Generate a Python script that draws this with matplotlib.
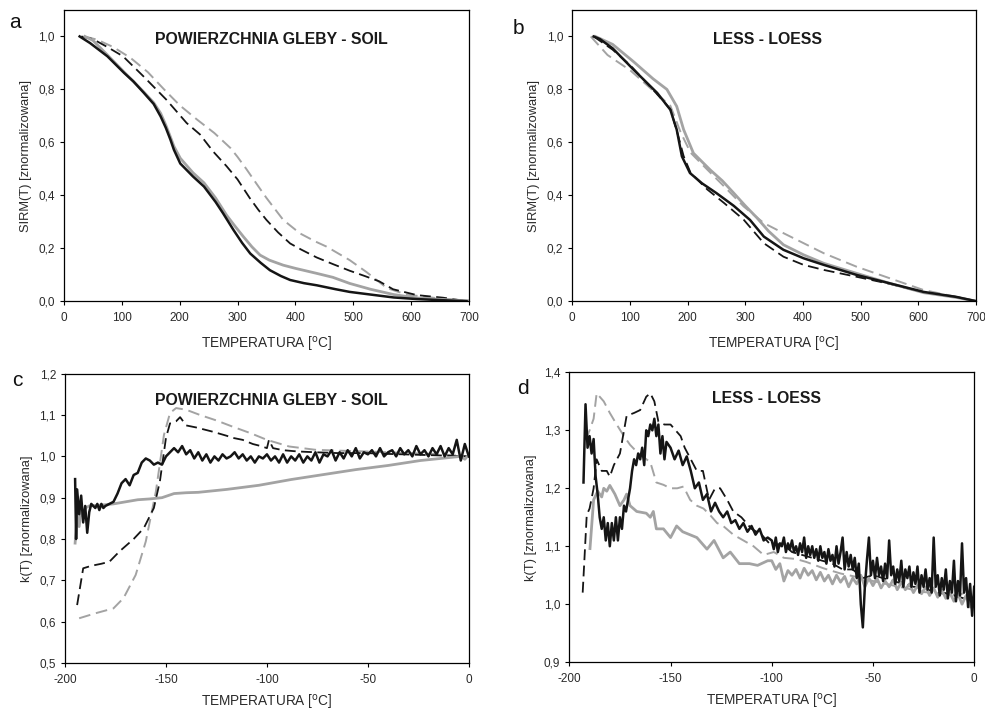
import numpy as np
import matplotlib
matplotlib.use("Agg")
from matplotlib import pyplot as plt
from matplotlib.ticker import FuncFormatter

plt.rcParams['font.family'] = ['Liberation Sans', 'DejaVu Sans']

BLACK = '#151515'
GREY = '#a3a3a3'

# ---- panel a: SIRM(T), soil ----
a_black_x = [27, 45, 75, 104, 120, 138, 155, 167, 176, 184, 190, 201, 223, 242, 262, 275, 293, 308, 322, 340,
             356, 375, 391, 415, 437, 470, 494, 530, 570, 610, 650, 696]
a_black_y = [1.0, 0.975, 0.925, 0.862, 0.83, 0.787, 0.745, 0.698, 0.655, 0.61, 0.572, 0.52, 0.471, 0.433, 0.375,
             0.332, 0.269, 0.22, 0.18, 0.145, 0.117, 0.095, 0.08, 0.068, 0.06, 0.045, 0.035, 0.025, 0.014, 0.008,
             0.004, 0.0]
a_grey_x = [36, 50, 75, 104, 120, 138, 155, 167, 176, 184, 190, 201, 223, 242, 262, 281, 295, 310, 325, 339,
            355, 379, 400, 437, 465, 494, 530, 570, 610, 667, 708]
a_grey_y = [1.0, 0.985, 0.93, 0.865, 0.83, 0.79, 0.75, 0.71, 0.665, 0.62, 0.585, 0.54, 0.485, 0.447, 0.39,
            0.325, 0.285, 0.244, 0.205, 0.174, 0.155, 0.136, 0.124, 0.105, 0.09, 0.067, 0.045, 0.025, 0.012,
            0.005, 0.0]
a_bdash_x = [30, 50, 75, 102, 137, 177, 212, 235, 258, 281, 300, 321, 336, 350, 370, 391, 410, 437, 465, 494,
             520, 545, 569, 610, 656, 696]
a_bdash_y = [1.0, 0.99, 0.96, 0.925, 0.85, 0.761, 0.673, 0.63, 0.565, 0.51, 0.46, 0.39, 0.345, 0.307, 0.26,
             0.218, 0.195, 0.165, 0.14, 0.115, 0.095, 0.075, 0.045, 0.023, 0.013, 0.0]
a_gdash_x = [35, 57, 85, 115, 145, 173, 200, 230, 260, 288, 300, 315, 334, 350, 379, 408, 435, 454, 494, 523,
             558, 592, 650, 710]
a_gdash_y = [1.0, 0.988, 0.96, 0.919, 0.865, 0.80, 0.74, 0.686, 0.635, 0.578, 0.545, 0.5, 0.44, 0.39, 0.307,
             0.256, 0.225, 0.206, 0.155, 0.11, 0.05, 0.025, 0.01, 0.0]

# ---- panel b: SIRM(T), loess ----
b_black_x = [37, 48, 70, 106, 147, 170, 181, 190, 204, 225, 250, 280, 308, 332, 366, 401, 436, 493, 551, 609,
             666, 700]
b_black_y = [1.0, 0.99, 0.955, 0.875, 0.787, 0.723, 0.648, 0.547, 0.484, 0.445, 0.408, 0.36, 0.307, 0.244,
             0.194, 0.162, 0.137, 0.099, 0.067, 0.035, 0.016, 0.0]
b_grey_x = [40, 70, 106, 140, 164, 181, 193, 210, 239, 260, 280, 300, 320, 340, 366, 401, 436, 493, 551, 609,
            666, 700]
b_grey_y = [1.0, 0.97, 0.905, 0.84, 0.80, 0.736, 0.648, 0.559, 0.496, 0.455, 0.408, 0.36, 0.315, 0.265, 0.213,
            0.175, 0.143, 0.105, 0.067, 0.032, 0.014, 0.0]
b_bdash_x = [37, 70, 101, 147, 170, 182, 193, 205, 234, 263, 297, 332, 366, 401, 436, 493, 551, 609, 666, 700]
b_bdash_y = [1.0, 0.95, 0.89, 0.782, 0.725, 0.637, 0.548, 0.485, 0.422, 0.371, 0.308, 0.219, 0.168, 0.137,
             0.118, 0.092, 0.065, 0.033, 0.016, 0.0]
b_gdash_x = [32, 61, 101, 147, 170, 188, 205, 234, 263, 297, 332, 366, 401, 436, 493, 551, 609, 666, 700]
b_gdash_y = [1.0, 0.93, 0.871, 0.782, 0.738, 0.637, 0.561, 0.497, 0.434, 0.358, 0.295, 0.257, 0.219, 0.181,
             0.13, 0.086, 0.042, 0.016, 0.0]

# ---- panel c: k(T), soil ----
c_black_x = [-195, -194.5, -194, -193, -192, -191, -190, -189, -188, -187,
             -186, -185, -184, -183, -182, -181, -180, -178, -176, -174,
             -172, -170, -168, -166, -164, -162, -160, -158, -156, -154,
             -152, -150, -148, -146, -144, -142, -140,
             -138, -136, -134, -132, -130, -128, -126, -124, -122, -120,
             -118, -116, -114, -112, -110, -108, -106, -104, -102, -100,
             -98, -96, -94, -92, -90, -88, -86, -84, -82, -80,
             -78, -76, -74, -72, -70, -68, -66, -64, -62, -60,
             -58, -56, -54, -52, -50, -48, -46, -44, -42, -40,
             -38, -36, -34, -32, -30, -28, -26, -24, -22, -20,
             -18, -16, -14, -12, -10, -8, -6, -4, -2, 0]
c_black_y = [0.945, 0.80, 0.92, 0.86, 0.905, 0.84, 0.88, 0.815, 0.865, 0.885,
             0.88, 0.875, 0.885, 0.87, 0.885, 0.875, 0.88, 0.885, 0.89, 0.91,
             0.935, 0.945, 0.93, 0.955, 0.96, 0.985, 0.995, 0.99, 0.98, 0.985,
             0.98, 1.0, 1.01, 1.02, 1.01, 1.025, 1.005,
             1.015, 0.995, 1.01, 0.99, 1.005, 0.985, 1.0, 0.99, 1.005, 0.995,
             1.0, 1.01, 0.995, 1.005, 0.99, 1.0, 0.985, 1.0, 0.995, 1.005,
             0.99, 1.0, 0.985, 1.005, 0.985, 1.0, 0.99, 1.005, 0.985, 1.0,
             0.99, 1.01, 0.985, 1.005, 1.0, 1.015, 0.99, 1.01, 0.995, 1.015,
             1.0, 1.02, 0.995, 1.01, 1.005, 1.015, 1.0, 1.02, 1.0, 1.01,
             1.015, 1.0, 1.02, 1.005, 1.015, 1.0, 1.025, 1.005, 1.015, 1.0,
             1.02, 1.005, 1.025, 1.0, 1.02, 1.005, 1.04, 0.99, 1.03, 1.0]
c_grey_x = [-195, -194, -193, -192, -191, -190, -188, -182, -176, -170,
            -164, -158, -152, -146, -140, -134, -128, -120, -112, -104,
            -96, -88, -80, -72, -64, -56, -48, -40, -32, -24,
            -16, -8, -4, -2, 0]
c_grey_y = [0.79, 0.86, 0.83, 0.87, 0.855, 0.875, 0.88, 0.882, 0.885, 0.89,
            0.895, 0.897, 0.90, 0.91, 0.912, 0.913, 0.916, 0.92, 0.925, 0.93,
            0.937, 0.944, 0.95, 0.956, 0.962, 0.968, 0.973, 0.978, 0.984, 0.99,
            0.994, 0.998, 1.0, 0.993, 1.004]
c_bdash_x = [-194, -191, -187, -182, -178, -173, -166, -161, -156, -153,
             -150, -148, -145, -143, -140, -135, -127, -120, -117, -112,
             -107, -103, -100, -99, -97, -92, -85, -76, -65, -51,
             -40, -26, -12, 0]
c_bdash_y = [0.64, 0.729, 0.735, 0.74, 0.745, 0.77, 0.80, 0.826, 0.875, 0.94,
             1.045, 1.08, 1.085, 1.095, 1.075, 1.07, 1.06, 1.05, 1.045, 1.04,
             1.03, 1.025, 1.02, 1.04, 1.02, 1.015, 1.012, 1.01, 1.008, 1.008,
             1.006, 1.004, 1.002, 1.0]
c_gdash_x = [-193, -185, -176, -171, -165, -160, -155, -151, -148, -145,
             -140, -133, -125, -117, -108, -100, -89, -76, -65, -51,
             -35, -18, 0]
c_gdash_y = [0.608, 0.62, 0.632, 0.657, 0.713, 0.794, 0.915, 1.052, 1.105, 1.117,
             1.113, 1.10, 1.087, 1.072, 1.056, 1.04, 1.024, 1.016, 1.014, 1.012,
             1.009, 1.006, 1.0]

# ---- panel d: k(T), loess ----
d_black_x = [-193, -192, -191, -190, -189, -188, -187, -186, -185, -184,
             -183, -182, -181, -180, -179, -178, -177, -176, -175, -174,
             -173, -172, -171, -170, -169, -168, -167, -166, -165, -164,
             -163, -162, -161, -160, -159, -158, -157, -156, -155, -154,
             -153, -152,
             -150, -148, -146, -144, -142, -140, -138, -136, -134, -132,
             -130, -128, -126, -124, -122, -120, -118, -116, -114, -112,
             -110, -108, -106, -104, -102]
d_black_y = [1.21, 1.345, 1.27, 1.29, 1.26, 1.285, 1.22, 1.19, 1.15, 1.13,
             1.15, 1.11, 1.14, 1.10, 1.14, 1.11, 1.15, 1.11, 1.15, 1.13,
             1.17, 1.16, 1.18, 1.20, 1.23, 1.25, 1.24, 1.26, 1.25, 1.27,
             1.24, 1.30, 1.29, 1.31, 1.30, 1.32, 1.29, 1.31, 1.26, 1.29,
             1.25, 1.28,
             1.27, 1.25, 1.265, 1.24, 1.255, 1.23, 1.20, 1.21, 1.18, 1.19,
             1.16, 1.175, 1.16, 1.15, 1.16, 1.14, 1.145, 1.13, 1.14, 1.125,
             1.135, 1.12, 1.13, 1.11, 1.115]
d_black_tail_x = [-100, -99, -98, -97, -96, -95, -94, -93, -92, -91,
                  -90, -89, -88, -87, -86, -85, -84, -83, -82, -81,
                  -80, -79, -78, -77, -76, -75, -74, -73, -72, -71,
                  -70, -69, -68, -67, -66, -65, -64, -63, -62, -61,
                  -60, -59, -58, -57, -56, -55, -54, -53, -52, -51,
                  -50, -49, -48, -47, -46, -45, -44, -43, -42, -41,
                  -40, -39, -38, -37, -36, -35, -34, -33, -32, -31,
                  -30, -29, -28, -27, -26, -25, -24, -23, -22, -21,
                  -20, -19, -18, -17, -16, -15, -14, -13, -12, -11,
                  -10, -9, -8, -7, -6, -5, -4, -3, -2, -1, 0]
d_black_tail_y = [1.11, 1.095, 1.115, 1.09, 1.105, 1.10, 1.115, 1.09, 1.105, 1.095,
                  1.11, 1.09, 1.10, 1.085, 1.105, 1.09, 1.115, 1.08, 1.10, 1.085,
                  1.10, 1.08, 1.095, 1.075, 1.10, 1.08, 1.09, 1.07, 1.095, 1.075,
                  1.085, 1.065, 1.10, 1.07, 1.09, 1.115, 1.06, 1.09, 1.065, 1.085,
                  1.06, 1.08, 1.045, 1.07, 1.00, 0.96, 1.03, 1.075, 1.115, 1.05,
                  1.075, 1.045, 1.08, 1.05, 1.065, 1.04, 1.07, 1.045, 1.11, 1.05,
                  1.065, 1.035, 1.06, 1.04, 1.075, 1.03, 1.06, 1.045, 1.065, 1.03,
                  1.055, 1.035, 1.065, 1.02, 1.05, 1.03, 1.06, 1.025, 1.045, 1.02,
                  1.115, 1.03, 1.05, 1.015, 1.045, 1.025, 1.06, 1.01, 1.04, 1.02,
                  1.075, 1.005, 1.04, 1.015, 1.105, 1.02, 1.045, 0.995, 1.035, 0.98, 1.03]
d_grey_x = [-189.8, -188, -186, -184, -183, -181.5, -180, -177.5, -175, -173,
            -171.7, -170, -166.7, -162, -160, -158.5, -157, -153.5, -150, -147,
            -144, -140.5, -137, -132, -128.5, -124, -120.5, -116, -111, -107, -102]
d_grey_y = [1.096, 1.18, 1.195, 1.185, 1.20, 1.195, 1.205, 1.19, 1.17, 1.18,
            1.19, 1.17, 1.16, 1.157, 1.15, 1.16, 1.13, 1.13, 1.115, 1.135,
            1.125, 1.12, 1.115, 1.095, 1.11, 1.08, 1.09, 1.07, 1.07, 1.067, 1.075]
d_grey_tail_x = [-100, -98, -96, -94, -92, -90, -88, -86, -84, -82,
                 -80, -78, -76, -74, -72, -70, -68, -66, -64, -62,
                 -60, -58, -56, -54, -52, -50, -48, -46, -44, -42,
                 -40, -38, -36, -34, -32, -30, -28, -26, -24, -22,
                 -20, -18, -16, -14, -12, -10, -8, -6, -4, -2, 0]
d_grey_tail_y = [1.075, 1.06, 1.07, 1.04, 1.058, 1.05, 1.06, 1.045, 1.062, 1.05,
                 1.058, 1.042, 1.055, 1.04, 1.05, 1.035, 1.05, 1.038, 1.048, 1.03,
                 1.045, 1.035, 1.05, 1.03, 1.045, 1.032, 1.045, 1.028, 1.04, 1.03,
                 1.042, 1.025, 1.038, 1.025, 1.035, 1.02, 1.032, 1.018, 1.03, 1.015,
                 1.028, 1.012, 1.025, 1.01, 1.02, 1.005, 1.018, 1.0, 1.015, 0.995, 1.005]
d_bdash_x = [-193.4, -191.4, -190, -188, -186.5, -184, -181.5, -180, -178, -175,
             -171.7, -168, -165, -162, -160, -158, -156, -153, -150, -145,
             -143, -140, -137, -134, -131, -128, -125.5, -122, -119, -115,
             -110, -105, -100, -95, -90, -85, -80, -75, -70, -65,
             -60, -55, -50, -45, -40, -35, -30, -25, -20, -15,
             -10, -5, 0]
d_bdash_y = [1.02, 1.154, 1.165, 1.20, 1.25, 1.23, 1.23, 1.22, 1.24, 1.26,
             1.325, 1.33, 1.335, 1.358, 1.364, 1.35, 1.315, 1.31, 1.31, 1.29,
             1.27, 1.25, 1.23, 1.23, 1.18, 1.20, 1.20, 1.18, 1.16, 1.15,
             1.13, 1.12, 1.10, 1.105, 1.09, 1.085, 1.08, 1.075, 1.07, 1.06,
             1.06, 1.045, 1.05, 1.045, 1.04, 1.035, 1.03, 1.03, 1.02, 1.02,
             1.015, 1.01, 1.01]
d_gdash_x = [-192, -190, -188, -186.5, -183, -180, -176.6, -173, -170, -166.7,
             -163.4, -160, -157, -153.5, -150, -146.7, -143.6, -140.3, -137, -133.7,
             -130.5, -127, -124, -119, -114, -109, -104, -99, -94, -88,
             -83, -74.5, -66, -58, -50, -41, -33, -25, -16, -8,
             -4, 0]
d_gdash_y = [1.283, 1.30, 1.32, 1.364, 1.35, 1.33, 1.31, 1.29, 1.275, 1.263,
             1.254, 1.245, 1.21, 1.206, 1.20, 1.20, 1.203, 1.18, 1.17, 1.165,
             1.154, 1.14, 1.135, 1.12, 1.11, 1.10, 1.085, 1.09, 1.08, 1.078,
             1.073, 1.062, 1.053, 1.047, 1.04, 1.033, 1.027, 1.021, 1.018, 1.016,
             1.02, 1.0]

xlabel = r'TEMPERATURA [$^{\mathrm{o}}$C]'
comma = FuncFormatter(lambda v, p: f'{v:.1f}'.replace('.', ','))
intfmt = FuncFormatter(lambda v, p: f'{v:.0f}')


def draw(ax, series, title, title_pos, ylabel, xlim, ylim, xticks, yticks, xpad=8):
    bx, by, gx, gy, bdx, bdy, gdx, gdy = series
    ax.plot(gdx, gdy, color=GREY, lw=1.4, dashes=(6, 3))
    ax.plot(bdx, bdy, color=BLACK, lw=1.3, dashes=(6, 3))
    ax.plot(gx, gy, color=GREY, lw=2.0)
    ax.plot(bx, by, color=BLACK, lw=1.8)
    ax.set_xlim(*xlim)
    ax.set_ylim(*ylim)
    ax.set_xticks(xticks)
    ax.set_yticks(yticks)
    ax.xaxis.set_major_formatter(intfmt)
    ax.yaxis.set_major_formatter(comma)
    ax.tick_params(labelsize=8.5, labelcolor='#2a2a2a', length=3, width=0.8, direction='out')
    ax.tick_params(axis='x', pad=5)
    for s in ax.spines.values():
        s.set_linewidth(0.9)
    ax.set_xlabel(xlabel, fontsize=9.8, color='#2a2a2a', labelpad=xpad)
    ax.set_ylabel(ylabel, fontsize=9.3, color='#2a2a2a', labelpad=5)
    ax.text(title_pos[0], title_pos[1], title, transform=ax.transAxes, ha='center', va='center',
            fontsize=11.4, fontweight='bold', color='#1a1a1a')


fig = plt.figure(figsize=(9.85, 7.12), dpi=100)
ax_a = fig.add_axes([0.065, 0.577, 0.411, 0.409])
ax_b = fig.add_axes([0.581, 0.577, 0.410, 0.409])
ax_c = fig.add_axes([0.066, 0.069, 0.410, 0.406])
ax_d = fig.add_axes([0.578, 0.070, 0.411, 0.407])

sirm_label = 'SIRM(T) [znormalizowana]'
k_label = 'k(T) [znormalizowana]'

draw(ax_a, (a_black_x, a_black_y, a_grey_x, a_grey_y, a_bdash_x, a_bdash_y, a_gdash_x, a_gdash_y),
     'POWIERZCHNIA GLEBY - SOIL', (0.513, 0.897), sirm_label,
     (0, 700), (0, 1.1), range(0, 701, 100), np.arange(0, 1.01, 0.2))
draw(ax_b, (b_black_x, b_black_y, b_grey_x, b_grey_y, b_bdash_x, b_bdash_y, b_gdash_x, b_gdash_y),
     'LESS - LOESS', (0.484, 0.897), sirm_label,
     (0, 700), (0, 1.1), range(0, 701, 100), np.arange(0, 1.01, 0.2))
draw(ax_c, (c_black_x, c_black_y, c_grey_x, c_grey_y, c_bdash_x, c_bdash_y, c_gdash_x, c_gdash_y),
     'POWIERZCHNIA GLEBY - SOIL', (0.512, 0.907), k_label,
     (-200, 0), (0.5, 1.2), range(-200, 1, 50), np.arange(0.5, 1.21, 0.1), xpad=5)
draw(ax_d, (d_black_x + d_black_tail_x, d_black_y + d_black_tail_y,
            d_grey_x + d_grey_tail_x, d_grey_y + d_grey_tail_y,
            d_bdash_x, d_bdash_y, d_gdash_x, d_gdash_y),
     'LESS - LOESS', (0.486, 0.909), k_label,
     (-200, 0), (0.9, 1.4), range(-200, 1, 50), np.arange(0.9, 1.41, 0.1), xpad=5)

for letter, (px, py) in zip('abcd', [(15, 23), (518, 28), (17, 381), (523, 388)]):
    fig.text(px / 985, 1 - py / 712, letter, ha='center', va='center', fontsize=15, color='#111')

fig.savefig('out.png', dpi=100, facecolor='white')
